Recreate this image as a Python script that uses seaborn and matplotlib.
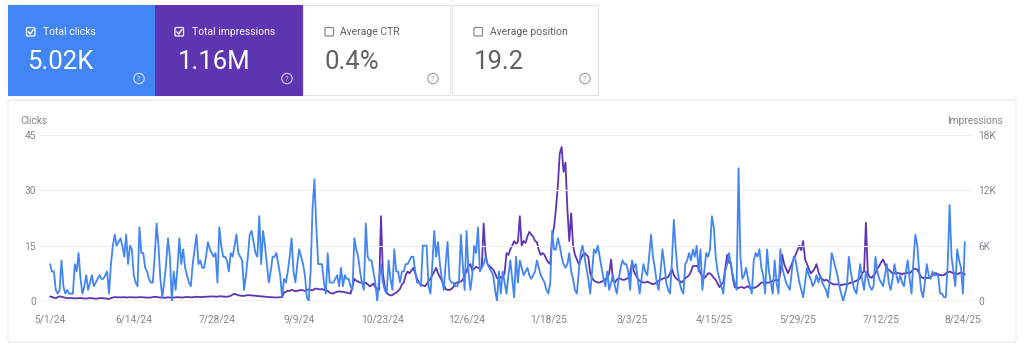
import numpy as np
import pandas as pd
import matplotlib
matplotlib.use("Agg")
import matplotlib.pyplot as plt
from matplotlib.patches import Rectangle, FancyBboxPatch, Circle
import seaborn as sns

# daily values, 5/1/24 -> 8/25/25
start_date = "2024-05-01"
clicks = [
    10, 8, 8, 3, 2, 3, 11,
    4, 2, 3, 2, 2, 2, 10,
    8, 13, 6, 2, 4, 7, 3,
    5, 7, 4, 5, 6, 7, 6,
    6, 7, 8, 2, 10, 15, 18,
    15, 16, 17, 15, 12, 18, 10,
    15, 14, 7, 5, 4, 20, 13,
    13, 9, 8, 6, 5, 5, 12,
    21, 15, 6, 1, 5, 10, 17,
    12, 0, 8, 3, 9, 17, 10,
    14, 9, 7, 5, 4, 10, 14,
    18, 10, 11, 9, 9, 12, 16,
    14, 13, 12, 13, 5, 20, 15,
    12, 12, 11, 8, 13, 12, 15,
    18, 13, 12, 11, 3, 7, 12,
    18, 19, 16, 13, 12, 23, 10,
    19, 15, 10, 5, 8, 12, 12,
    13, 10, 7, 1, 6, 5, 8,
    12, 17, 8, 5, 10, 14, 12,
    10, 7, 1, 0, 8, 25, 33,
    20, 10, 10, 10, 5, 2, 13,
    5, 5, 5, 6, 7, 4, 9,
    4, 7, 6, 6, 4, 3, 17,
    14, 12, 8, 5, 3, 21, 12,
    11, 11, 8, 5, 0, 6, 10,
    5, 3, 2, 11, 6, 3, 14,
    8, 8, 5, 8, 8, 10, 10,
    11, 12, 12, 8, 5, 5, 4,
    15, 15, 15, 4, 2, 10, 19,
    12, 16, 10, 6, 3, 10, 16,
    6, 5, 5, 4, 4, 5, 18,
    10, 3, 19, 8, 3, 7, 15,
    13, 20, 8, 9, 10, 12, 10,
    9, 8, 7, 3, 0, 8, 2,
    8, 5, 2, 7, 11, 6, 1,
    12, 5, 11, 9, 7, 8, 9,
    7, 6, 7, 8, 11, 9, 7,
    6, 5, 3, 2, 5, 19, 14,
    14, 17, 15, 12, 10, 9, 10,
    13, 8, 6, 3, 2, 8, 13,
    15, 12, 9, 6, 2, 8, 14,
    13, 15, 12, 9, 6, 4, 8,
    3, 5, 7, 4, 2, 6, 9,
    11, 10, 10, 8, 3, 11, 9,
    10, 6, 2, 6, 10, 8, 7,
    12, 18, 12, 9, 5, 3, 8,
    14, 10, 5, 3, 2, 11, 22,
    14, 8, 5, 3, 2, 10, 11,
    13, 11, 14, 12, 15, 8, 14,
    3, 8, 13, 12, 14, 23, 20,
    12, 8, 6, 4, 2, 8, 10,
    13, 10, 7, 5, 3, 36, 12,
    6, 7, 9, 6, 4, 2, 11,
    13, 12, 14, 9, 7, 2, 14,
    8, 5, 2, 11, 5, 2, 14,
    9, 7, 5, 4, 3, 8, 12,
    11, 8, 5, 3, 1, 5, 9,
    7, 6, 4, 5, 7, 5, 7,
    5, 4, 3, 1, 6, 13, 11,
    9, 7, 4, 2, 0, 2, 4,
    12, 8, 5, 3, 2, 6, 10,
    6, 3, 8, 6, 4, 3, 4,
    12, 8, 6, 5, 4, 7, 10,
    5, 3, 6, 10, 7, 5, 7,
    5, 4, 8, 11, 6, 2, 11,
    18, 15, 8, 3, 1, 5, 10,
    7, 6, 8, 7, 7, 7, 2,
    2, 1, 1, 10, 26, 12, 8,
    4, 14, 11, 9, 2, 16,
]
impressions = [
    480, 450, 350, 300, 420, 500, 460,
    400, 350, 320, 300, 330, 300, 280,
    300, 310, 320, 300, 280, 260, 300,
    320, 300, 280, 250, 270, 300, 320,
    300, 270, 250, 220, 300, 380, 420,
    400, 410, 390, 400, 420, 380, 400,
    410, 400, 380, 390, 400, 410, 420,
    400, 380, 370, 360, 380, 420, 460,
    440, 400, 380, 360, 350, 380, 400,
    380, 360, 370, 400, 420, 400, 380,
    390, 420, 440, 420, 400, 410, 430,
    460, 440, 420, 430, 450, 470, 460,
    480, 500, 490, 470, 460, 520, 500,
    480, 470, 460, 500, 560, 700, 780,
    700, 620, 580, 560, 550, 600, 640,
    620, 600, 580, 560, 540, 520, 500,
    480, 460, 440, 420, 410, 400, 390,
    380, 390, 400, 420, 900, 1000, 1100,
    1100, 1200, 1150, 1050, 1100, 1150, 1200,
    1150, 1100, 1200, 1250, 1200, 1150, 1300,
    1350, 1300, 1250, 1300, 1200, 1150, 1100,
    900, 850, 800, 950, 1000, 1050, 1000,
    1000, 950, 900, 850, 800, 1600, 2400,
    2200, 2100, 2000, 2000, 1900, 2000, 1800,
    1600, 1700, 1900, 1500, 1300, 1200, 9200,
    3000, 1500, 900, 700, 600, 650, 800,
    900, 1100, 1300, 1800, 2000, 2800, 3200,
    3000, 3300, 3600, 3000, 2400, 2000, 1800,
    1700, 1600, 1800, 2200, 2400, 2800, 3200,
    3600, 3000, 2600, 2200, 1800, 1300, 1200,
    1200, 1300, 1500, 1900, 2000, 2100, 2100,
    2300, 2800, 3200, 3800, 4000, 3300, 3500,
    3700, 3600, 3500, 3700, 8400, 5000, 4000,
    3800, 3600, 3400, 3000, 2500, 2400, 2600,
    2600, 3000, 5200, 5000, 5600, 6000, 6500,
    6200, 6400, 9200, 6000, 6500, 6300, 7000,
    7500, 7200, 7000, 6500, 6400, 5500, 5000,
    5200, 5000, 4500, 4200, 4000, 7000, 8000,
    10000, 12500, 16000, 16700, 14000, 15000, 10000,
    6500, 9500, 6000, 5000, 4500, 4000, 4500,
    5000, 5200, 5000, 4800, 3000, 2500, 2200,
    2100, 2000, 2000, 2100, 2200, 2400, 2500,
    3000, 4500, 2200, 2000, 2300, 2500, 2400,
    2300, 2300, 2400, 2500, 3000, 4200, 3200,
    2800, 2400, 2200, 2100, 2000, 2000, 2100,
    2000, 1900, 1800, 1900, 2000, 2200, 2300,
    2400, 2500, 2500, 2600, 3000, 3500, 2800,
    2500, 2300, 2200, 2000, 2200, 2500, 2600,
    2800, 3200, 3800, 3800, 3800, 3600, 3000,
    2600, 2500, 2700, 3000, 3000, 2800, 2500,
    2300, 1900, 1500, 1800, 2000, 3500, 5000,
    4200, 4000, 2500, 1500, 1500, 1400, 1500,
    1500, 1400, 1500, 1600, 1400, 1500, 1400,
    1500, 1600, 1800, 2000, 2000, 1900, 2000,
    2000, 2100, 2200, 2200, 2300, 2200, 3000,
    5000, 4000, 3500, 3000, 3500, 4000, 4500,
    5000, 5500, 6000, 5500, 6500, 4500, 4000,
    3500, 3000, 3200, 3500, 4000, 3200, 2500,
    2400, 2200, 2300, 2200, 2000, 1900, 1800,
    1800, 1800, 1800, 1700, 1800, 1800, 1800,
    1900, 2000, 2000, 2100, 2200, 2300, 2500,
    3000, 3200, 8500, 3000, 2600, 2500, 2800,
    3000, 3500, 3800, 4200, 4500, 4000, 3500,
    3400, 3200, 3000, 3000, 3100, 3000, 3000,
    2900, 3000, 3000, 3100, 3000, 3200, 3500,
    3500, 3400, 3000, 2600, 2500, 2500, 2500,
    2500, 2600, 2800, 3000, 3000, 2900, 2800,
    2800, 2800, 3000, 3100, 3200, 3100, 3000,
    3000, 2900, 3000, 3100, 3000, 2900,
]

card_titles = ["Total clicks", "Total impressions", "Average CTR", "Average position"]
card_values = ["5.02K", "1.16M", "0.4%", "19.2"]
card_checked = [True, True, False, False]

tick_dates = ["2024-05-01", "2024-06-14", "2024-07-28", "2024-09-09",
              "2024-10-23", "2024-12-06", "2025-01-18", "2025-03-03",
              "2025-04-15", "2025-05-29", "2025-07-12", "2025-08-24"]
tick_labels = ["5/1/24", "6/14/24", "7/28/24", "9/9/24", "10/23/24", "12/6/24",
               "1/18/25", "3/3/25", "4/15/25", "5/29/25", "7/12/25", "8/24/25"]
clicks_ticks = [0, 15, 30, 45]
impr_ticks = [0, 6000, 12000, 18000]
impr_tick_labels = ["0", "6K", "12K", "18K"]

df = pd.DataFrame({
    "date": pd.date_range(start_date, periods=len(clicks), freq="D"),
    "clicks": clicks,
    "impressions": impressions,
})

sns.set_style("white")
plt.rcParams["font.family"] = ["Roboto", "DejaVu Sans"]

BLUE = "#4285f4"
PURPLE = "#5e35b1"
GREY_TXT = "#80868b"

fig = plt.figure(figsize=(10.24, 3.55), dpi=100)

# background layer in pixel coordinates
bg = fig.add_axes([0, 0, 1, 1], zorder=0)
bg.set_xlim(0, 1024)
bg.set_ylim(355, 0)
bg.axis("off")

# chart container
bg.add_patch(FancyBboxPatch((8, 100), 1008, 242, boxstyle="round,pad=0,rounding_size=3",
                            facecolor="white", edgecolor="#ececec", lw=1))

# summary cards
card_x = [(8, 155), (155, 303), (303, 450), (452, 598)]
card_bg = [BLUE, PURPLE, "white", "white"]
box_x = [26.5, 175, 325, 474]
label_x = [43, 192, 340, 490]
value_x = [27, 178, 325, 474]
icon_x = [139, 287, 433, 585]
for i, (x0, x1) in enumerate(card_x):
    edge = card_bg[i] if card_checked[i] else "#e3e3e3"
    bg.add_patch(Rectangle((x0, 5), x1 - x0, 90, facecolor=card_bg[i], edgecolor=edge, lw=0.8))
    fg = "white" if card_checked[i] else "#616161"
    box_col = "white" if card_checked[i] else "#8a8a8a"
    bg.add_patch(FancyBboxPatch((box_x[i], 27.5), 8.5, 8.5, boxstyle="round,pad=0,rounding_size=1.2",
                                facecolor="none", edgecolor=box_col, lw=0.9))
    if card_checked[i]:
        bx = box_x[i]
        bg.plot([bx + 1.8, bx + 3.7, bx + 6.8], [31.8, 34.0, 29.6], color="white", lw=1.0,
                solid_capstyle="round")
    bg.text(label_x[i], 31.8, card_titles[i], fontsize=7.5, color=fg, va="center", ha="left")
    bg.text(value_x[i], 62, card_values[i], fontsize=18.5, color=fg, va="center", ha="left")
    icon_col = (1, 1, 1, 0.75) if card_checked[i] else "#9e9e9e"
    bg.add_patch(Circle((icon_x[i], 78.5), 5.2, facecolor="none", edgecolor=icon_col, lw=0.8))
    bg.text(icon_x[i], 78.8, "?", fontsize=5.5, color=icon_col, ha="center", va="center")

bg.text(20, 121, "Clicks", fontsize=7.3, color=GREY_TXT, ha="left", va="center")
bg.text(1003, 121, "Impressions", fontsize=7.3, color=GREY_TXT, ha="right", va="center")

# main chart
ax = fig.add_axes([40 / 1024, 1 - 301 / 355, 933 / 1024, 166 / 355], zorder=2)
ax2 = ax.twinx()

sns.lineplot(data=df, x="date", y="impressions", ax=ax2, color=PURPLE, lw=1.3)
sns.lineplot(data=df, x="date", y="clicks", ax=ax, color=BLUE, lw=1.3)
ax.set_zorder(ax2.get_zorder() + 1)
ax.patch.set_visible(False)
ax2.patch.set_visible(False)

ax.set_ylim(0, 45)
ax2.set_ylim(0, 18000)
ax.set_xlim(df["date"].iloc[0] - pd.Timedelta(days=5.3),
            df["date"].iloc[0] + pd.Timedelta(days=485.3))

ax.set_yticks(clicks_ticks)
ax2.set_yticks(impr_ticks)
ax2.set_yticklabels(impr_tick_labels)
ax.set_xticks(pd.to_datetime(tick_dates))
ax.set_xticklabels(tick_labels)

ax.grid(axis="y", color="#eeeeee", lw=0.8)
ax.axhline(0, color="#9e9e9e", lw=0.9, zorder=1)
for a in (ax, ax2):
    for s in a.spines.values():
        s.set_visible(False)
    a.set_xlabel("")
    a.set_ylabel("")

ax.tick_params(axis="y", length=0, labelsize=7.3, labelcolor=GREY_TXT, pad=3)
ax2.tick_params(axis="y", length=0, labelsize=7.3, labelcolor=GREY_TXT, pad=4)
ax.tick_params(axis="x", length=0, labelsize=7.3, labelcolor=GREY_TXT, pad=10)

fig.savefig("out.png", dpi=100, facecolor="white")
